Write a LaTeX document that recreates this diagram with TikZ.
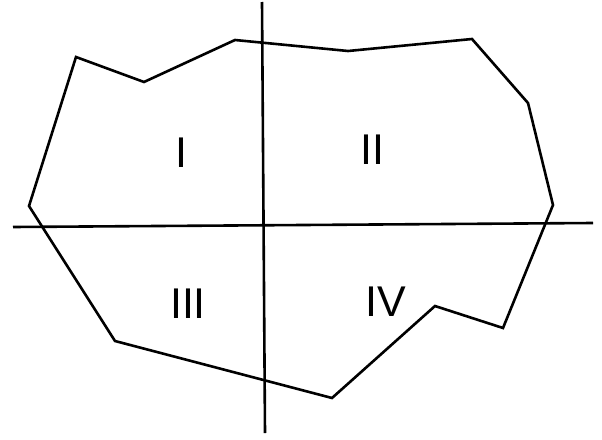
\documentclass[tikz,border=0pt]{standalone}
\usepackage{fontspec}
\setmainfont{Liberation Sans}
\begin{document}
\begin{tikzpicture}[
	x=1pt, y=-1pt,
	outline/.style={line width=2.6pt, draw=black, line join=miter},
	axis/.style={line width=2.6pt, draw=black},
	quad/.style={font=\fontsize{43}{43}\selectfont, inner sep=0pt}
	]
	% Frame
	\useasboundingbox (0,0) rectangle (602,439);
	
	% Axes end points
	\coordinate (xl) at (13,227);
	\coordinate (xr) at (593,223);
	\coordinate (yt) at (262,2);
	\coordinate (yb) at (265,433);
	
	% Region outline
	\draw[outline] (76,57) -- (144,82) -- (235,40) -- (348,51) -- (472,39)
		-- (528,103) -- (553,205) -- (503,328) -- (435,306) -- (332,398)
		-- (115,341) -- (29,206) -- cycle;
	
	% Axes
	\draw[axis] (xl) -- (xr);
	\draw[axis] (yt) -- (yb);
	
	% Quadrant labels
	\node[quad] (q1) at (181,152.5) {I};
	\node[quad] (q2) at (372,149.5) {II};
	\node[quad] (q3) at (188,304) {III};
	\node[quad] (q4) at (386,301.5) {IV};
\end{tikzpicture}
\end{document}
